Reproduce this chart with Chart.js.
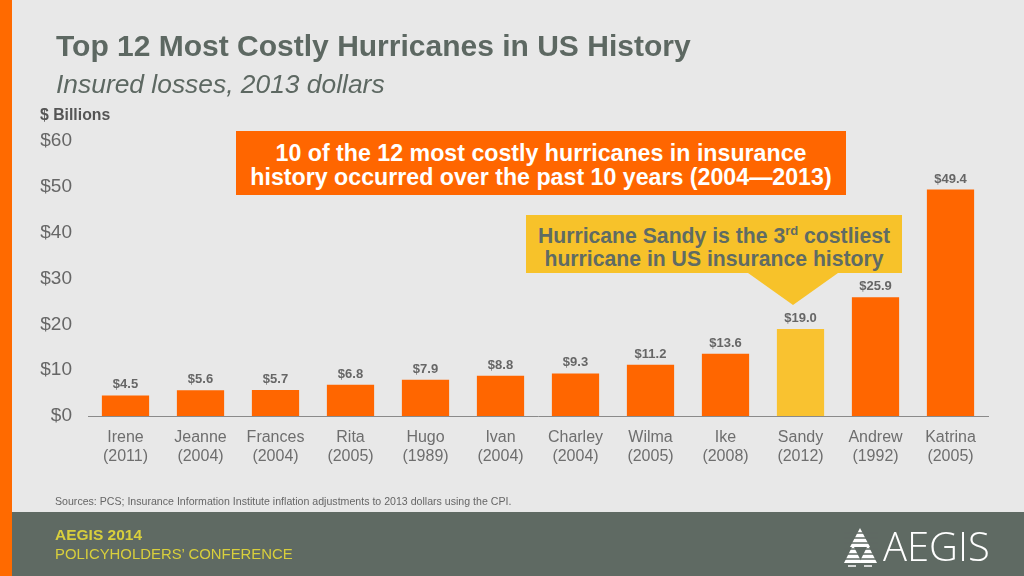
<!DOCTYPE html>
<html><head><meta charset="utf-8">
<script src="https://cdn.jsdelivr.net/npm/chart.js@4.4.1/dist/chart.umd.min.js"></script>
<style>
html,body{margin:0;padding:0;}
body{width:1024px;height:576px;position:relative;overflow:hidden;background:#e8e8e8;font-family:"Liberation Sans",Arial,sans-serif;}
#stripe{position:absolute;left:0;top:0;width:12px;height:576px;background:#ff6a00;z-index:3;}
#footer{position:absolute;left:0;top:512px;width:1024px;height:64px;background:#5f6a63;}
#wrap{position:absolute;left:0;top:0;width:1024px;height:576px;}
.t{position:absolute;white-space:nowrap;}
#title{left:56px;top:29px;font-size:30px;font-weight:bold;color:#5d6862;}
#sub{left:56px;top:69px;font-size:26.4px;font-style:italic;color:#5d6862;}
#unit{left:40px;top:106px;font-size:15.8px;font-weight:bold;color:#555;}
#src{left:55px;top:495px;font-size:10.6px;color:#666;}
#f1{left:55px;top:526px;font-size:15.5px;font-weight:bold;color:#d8cf3c;}
#f2{left:55px;top:546px;font-size:14.9px;color:#d8cf3c;}
#box1{position:absolute;left:236px;top:131px;width:610px;height:64px;background:#ff6600;color:#fff;font-weight:bold;font-size:23.2px;line-height:24px;text-align:center;padding-top:10px;box-sizing:border-box;white-space:nowrap;}
#box2{position:absolute;left:526px;top:215px;width:376px;height:58px;background:#f7c22a;color:#5f6b64;font-weight:bold;font-size:21.2px;line-height:23px;text-align:center;padding-top:9px;box-sizing:border-box;white-space:nowrap;}
#box2 sup{font-size:13px;line-height:0;vertical-align:8px;}
#ptr{position:absolute;left:748px;top:273px;width:0;height:0;border-left:45px solid transparent;border-right:45px solid transparent;border-top:32px solid #f7c22a;}
#logo{position:absolute;left:844px;top:527px;}
#logotxt{left:883px;top:518px;font-size:40px;font-weight:300;color:#fff;font-family:"Open Sans","Liberation Sans",sans-serif;}
</style></head>
<body>
<div id="stripe"></div>
<div id="footer"></div>
<div id="wrap"><canvas id="c" width="1024" height="576"></canvas></div>
<div class="t" id="title">Top 12 Most Costly Hurricanes in US History</div>
<div class="t" id="sub">Insured losses, 2013 dollars</div>
<div class="t" id="unit">$ Billions</div>
<div id="box1">10 of the 12 most costly hurricanes in insurance<br>history occurred over the past 10 years (2004—2013)</div>
<div id="box2">Hurricane Sandy is the 3<sup>rd</sup> costliest<br>hurricane in US insurance history</div>
<div id="ptr"></div>
<div class="t" id="src">Sources: PCS; Insurance Information Institute inflation adjustments to 2013 dollars using the CPI.</div>
<div class="t" id="f1">AEGIS 2014</div>
<div class="t" id="f2">POLICYHOLDERS’ CONFERENCE</div>
<svg id="logo" width="34" height="40" viewBox="0 0 34 40">
  <polygon points="16,1 26,20 6,20" fill="#fff"/>
  <polygon points="9,18 18,36 0,36" fill="#fff"/>
  <polygon points="24,18 33,36 15,36" fill="#fff"/>
  <g stroke="#5f6a63" stroke-width="1.6">
    <line x1="0" y1="6" x2="34" y2="6"/><line x1="0" y1="11" x2="34" y2="11"/><line x1="0" y1="16" x2="34" y2="16"/>
    <line x1="0" y1="22" x2="34" y2="22"/><line x1="0" y1="27" x2="34" y2="27"/><line x1="0" y1="32" x2="34" y2="32"/>
  </g>
  <line x1="4" y1="39" x2="12" y2="39" stroke="#fff" stroke-width="1.5"/>
  <line x1="20" y1="39" x2="28" y2="39" stroke="#fff" stroke-width="1.5"/>
</svg>
<div class="t" id="logotxt">AEGIS</div>
<script>
const names = ['Irene','Jeanne','Frances','Rita','Hugo','Ivan','Charley','Wilma','Ike','Sandy','Andrew','Katrina'];
const years = ['(2011)','(2004)','(2004)','(2005)','(1989)','(2004)','(2004)','(2005)','(2008)','(2012)','(1992)','(2005)'];
const losses = [4.5,5.6,5.7,6.8,7.9,8.8,9.3,11.2,13.6,19.0,25.9,49.4];
const yTicks = [0,10,20,30,40,50,60];
const highlight = 'Sandy';

const labels = names.map((n,i)=>[n, years[i]]);
const colors = names.map(n => n===highlight ? '#f9c230' : '#ff6600');

const valueLabels = {
  id:'valueLabels',
  afterDatasetsDraw(chart){
    const ctx = chart.ctx;
    const meta = chart.getDatasetMeta(0);
    ctx.save();
    ctx.font = 'bold 13px "Liberation Sans", Arial, sans-serif';
    ctx.fillStyle = '#666';
    ctx.textAlign = 'center';
    ctx.textBaseline = 'alphabetic';
    meta.data.forEach((bar,i)=>{
      ctx.fillText('$'+losses[i].toFixed(1), bar.x, bar.y - 7);
    });
    ctx.restore();
  }
};

new Chart(document.getElementById('c'),{
  type:'bar',
  data:{labels:labels,datasets:[{data:losses,backgroundColor:colors,borderWidth:0,barPercentage:0.63,categoryPercentage:1}]},
  options:{
    responsive:false,animation:false,
    layout:{padding:{left:20,right:36,top:141,bottom:110}},
    plugins:{legend:{display:false},tooltip:{enabled:false}},
    scales:{
      x:{
        grid:{display:false},
        border:{display:true,color:'#8a8a8a',width:1},
        ticks:{color:'#6e6e6e',font:{size:16,family:'"Liberation Sans", Arial, sans-serif'},padding:4,maxRotation:0,autoSkip:false},
        afterFit(s){s.height=50;}
      },
      y:{
        min:0,max:60,
        grid:{display:false,drawTicks:false},
        border:{display:false},
        afterBuildTicks(s){s.ticks=yTicks.map(v=>({value:v}));},
        ticks:{color:'#666',font:{size:19,family:'"Liberation Sans", Arial, sans-serif'},padding:16,callback:v=>'$'+v},
        afterFit(s){s.width=68;}
      }
    }
  },
  plugins:[valueLabels]
});
</script>
</body></html>
